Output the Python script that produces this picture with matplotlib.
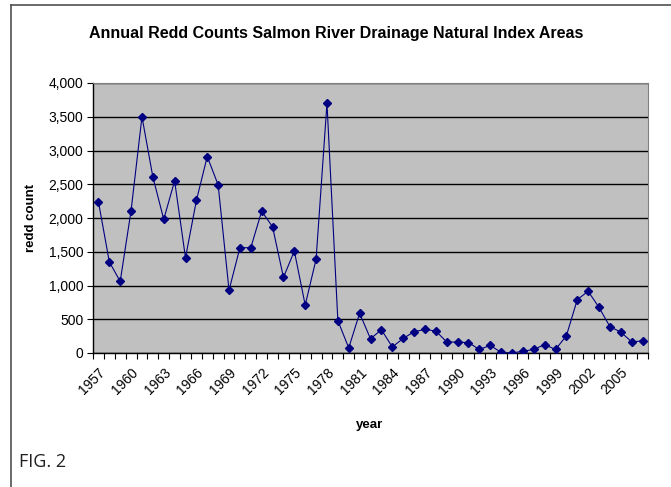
import matplotlib

matplotlib.use("Agg")

import matplotlib.pyplot as plt
from matplotlib.lines import Line2D
from matplotlib.ticker import FuncFormatter, MultipleLocator

years = list(range(1957, 2008))
redds = [
    2240, 1350, 1060, 2110, 3500, 2610, 1980, 2550, 1410, 2260,
    2910, 2490, 930, 1560, 1560, 2100, 1870, 1120, 1510, 710,
    1390, 3700, 480, 75, 590, 210, 345, 90, 215, 315,
    350, 325, 165, 160, 155, 52, 113, 10, 0, 26,
    52, 125, 52, 255, 790, 915, 675, 390, 310, 165,
    180,
]
label_years = years[::3]

FONT = ["Liberation Sans", "DejaVu Sans"]
plt.rcParams["font.family"] = FONT

W, H = 671, 487
fig = plt.figure(figsize=(W / 100, H / 100), dpi=100)
fig.patch.set_facecolor("white")

# plot area in pixel coords
x0, x1, y0, y1 = 93, 648, 83, 353
ax = fig.add_axes([x0 / W, 1 - y1 / H, (x1 - x0) / W, (y1 - y0) / H])
ax.set_facecolor("#c0c0c0")

idx = list(range(len(years)))
ax.plot(idx, redds, color="#000080", lw=0.8, marker="D", ms=4.3,
        mfc="#000080", mec="#000080", zorder=3)

ax.set_xlim(-0.5, len(years) - 0.5)
ax.set_ylim(0, 4000)
ax.yaxis.set_major_locator(MultipleLocator(500))
ax.yaxis.set_major_formatter(FuncFormatter(lambda v, _: f"{int(v):,}"))
ax.grid(axis="y", color="black", lw=1.0)
ax.set_axisbelow(True)

ax.set_xticks(idx[::3])
ax.set_xticklabels([str(y) for y in label_years], rotation=45, ha="right",
                   rotation_mode="anchor")
ax.set_xticks([i - 0.5 for i in range(len(years) + 1)], minor=True)
ax.tick_params(axis="x", which="major", length=0, pad=9, labelsize=10)
ax.tick_params(axis="x", which="minor", length=4, width=0.8, color="black",
               direction="out")
ax.tick_params(axis="y", length=4, width=0.8, labelsize=10, pad=3)

for side in ("top", "right"):
    ax.spines[side].set_color("#808080")
for side in ("left", "bottom"):
    ax.spines[side].set_color("black")
    ax.spines[side].set_linewidth(1.0)

fig.text(336 / W, 1 - 33 / H, "Annual Redd Counts Salmon River Drainage Natural Index Areas",
         ha="center", va="center", fontsize=11.5, fontweight="bold")
fig.text(31 / W, 1 - 218 / H, "redd count", rotation=90, ha="center", va="center",
         fontsize=9.5, fontweight="bold")
fig.text(370 / W, 1 - 425 / H, "year", ha="center", va="center",
         fontsize=9.5, fontweight="bold")
fig.text(19 / W, 1 - 462 / H, "FIG. 2", ha="left", va="center",
         fontsize=13, family=["Open Sans", "DejaVu Sans"], color="#231f20")

# outer frame: top and left edges only
fig.add_artist(Line2D([11 / W, 1], [1 - 5 / H, 1 - 5 / H], transform=fig.transFigure,
                      color="#505050", lw=1.2))
fig.add_artist(Line2D([11 / W, 11 / W], [1 - 5 / H, 0], transform=fig.transFigure,
                      color="#505050", lw=1.2))

fig.savefig("out.png", dpi=100, facecolor="white")
